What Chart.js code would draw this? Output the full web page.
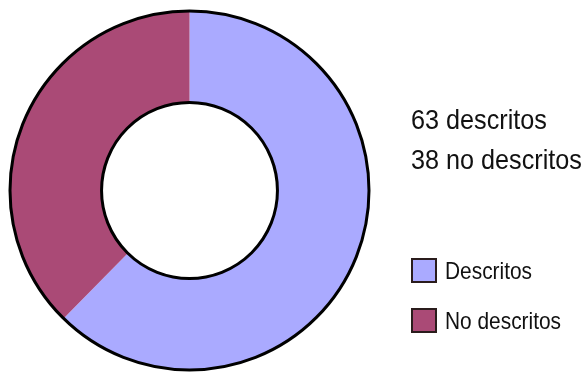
<!DOCTYPE html>
<html>
<head>
<meta charset="utf-8">
<script src="https://cdn.jsdelivr.net/npm/chart.js@4"></script>
<style>
  body { margin: 0; background: #fff; }
  #wrap { position: relative; width: 584px; height: 373px; }
  #note, #legend { position: absolute; left: 411px; font-family: 'Liberation Sans', Arial, sans-serif; color: #111; white-space: nowrap; transform-origin: left top; }
  #note { top: 100px; font-size: 28px; line-height: 40px; transform: scaleX(0.9); }
  #legend { top: 258px; font-size: 24px; }
  .item { display: flex; align-items: center; height: 25px; margin-bottom: 25px; }
  .box { width: 22px; height: 21px; border: 2px solid #2a1c1c; margin-right: 8px; flex: none; }
  .txt { display: inline-block; transform: scaleX(0.87); transform-origin: left center; }
</style>
</head>
<body>
<div id="wrap">
  <canvas id="pie" width="584" height="373"></canvas>
  <div id="note"></div>
  <div id="legend"></div>
</div>
<script>
// datos
const labels = ['Descritos', 'No descritos'];
const values = [63, 38];
const noteLabels = ['descritos', 'no descritos'];
const colors = ['#AAAAFF', '#AA4A76'];

// texto de totales y leyenda
document.getElementById('note').innerHTML = values.map((v, i) => v + ' ' + noteLabels[i]).join('<br>');
document.getElementById('legend').innerHTML = labels.map((l, i) =>
  `<div class="item"><span class="box" style="background:${colors[i]}"></span><span class="txt">${l}</span></div>`).join('');

// contorno exterior e interior (sin bordes entre sectores)
const ringOutline = {
  id: 'ringOutline',
  afterDatasetsDraw(chart) {
    const arc = chart.getDatasetMeta(0).data[0];
    const ctx = chart.ctx;
    ctx.save();
    ctx.strokeStyle = '#000';
    ctx.lineWidth = 3;
    [arc.outerRadius, arc.innerRadius].forEach(r => {
      ctx.beginPath();
      ctx.arc(arc.x, arc.y, r, 0, Math.PI * 2);
      ctx.stroke();
    });
    ctx.restore();
  }
};

const ctx = document.getElementById('pie').getContext('2d');
new Chart(ctx, {
  type: 'doughnut',
  data: {
    labels: labels,
    datasets: [{
      data: values,
      backgroundColor: colors,
      borderWidth: 0
    }]
  },
  options: {
    responsive: false,
    animation: false,
    cutout: '49%',
    layout: { padding: { left: 10, top: 11, bottom: 3, right: 215 } },
    plugins: {
      legend: { display: false },
      tooltip: { enabled: false }
    }
  },
  plugins: [ringOutline]
});
</script>
</body>
</html>
